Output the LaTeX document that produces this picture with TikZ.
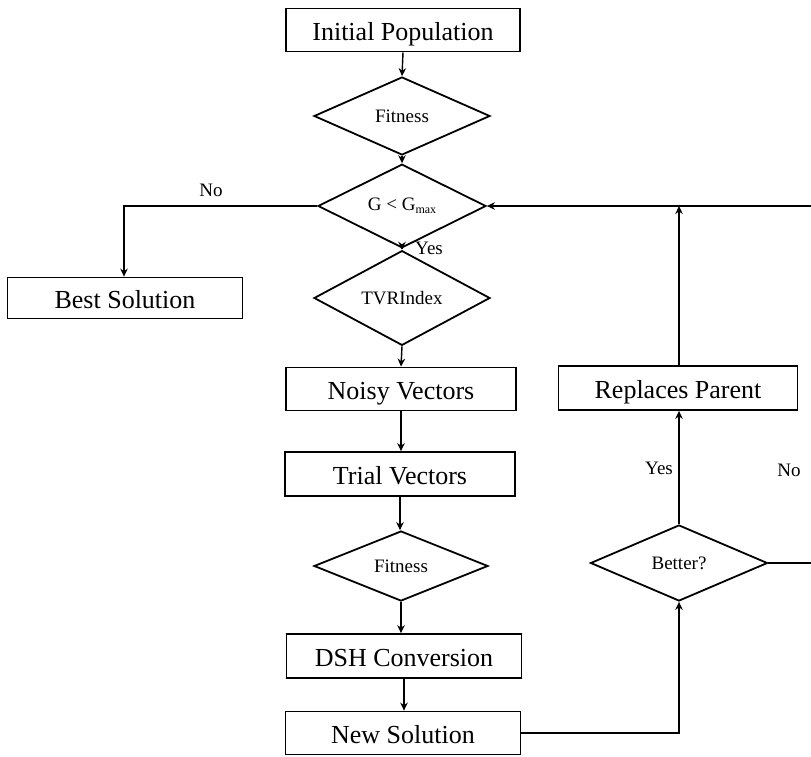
\documentclass[tikz,border=0pt]{standalone}
\usepackage{fontspec}
\setmainfont{Liberation Serif}
\usetikzlibrary{shapes.geometric,arrows.meta}
\tikzset{
  procbox/.style={draw, line width=1.8pt, rectangle, minimum width=234pt, minimum height=43pt,
    inner sep=0pt, text height=21pt, text depth=1pt, font=\fontsize{26}{30}\selectfont},
  decision/.style={draw, line width=1.8pt, diamond, minimum width=176pt, minimum height=78pt,
    inner sep=0pt, font=\fontsize{19}{22}\selectfont},
  flow/.style={line width=1.4pt, -{Stealth[length=8pt,width=7.5pt]}},
  lbl/.style={font=\fontsize{19}{22}\selectfont, inner sep=0pt}
}
\begin{document}
\begin{tikzpicture}[x=1pt, y=-1pt]
\useasboundingbox (0,0) rectangle (811,756);
% main column
\node[procbox] (ip)    at (403,30)  {Initial Population};
\node[decision] (fit1) at (402,116) {Fitness};
\node[decision, minimum width=168pt, minimum height=70pt] (gcmp) at (402,206)
  {G < G\raisebox{-0.3ex}{\fontsize{12}{12}\selectfont max}};
\node[decision] (tvr)  at (402,298) {TVRIndex};
\node[procbox, minimum width=230pt] (noisy) at (401,389) {Noisy Vectors};
\node[procbox, minimum width=230pt, minimum height=44pt] (trial) at (400,474) {Trial Vectors};
\node[decision, minimum width=174pt, minimum height=70pt] (fit2) at (401,566) {Fitness};
\node[procbox, minimum width=235pt, minimum height=44pt] (dsh) at (404,656) {DSH Conversion};
\node[procbox, minimum width=235pt] (newsol) at (403,733) {New Solution};
% side boxes
\node[procbox, minimum width=235pt, minimum height=41pt] (best) at (125,298) {Best Solution};
\node[procbox, minimum width=239pt, minimum height=44pt] (repl) at (678,388) {Replaces Parent};
\node[decision, minimum width=177pt, minimum height=76pt] (better) at (679,563) {Better?};
% junction points
\coordinate (nocorner) at (124,206);
\coordinate (newcorner) at (679,733);
\coordinate (topjoin) at (679,206);
\coordinate (rbottom) at (814,563);
\coordinate (rtop) at (814,206);
% connectors
\draw[flow] (ip.south) -- (fit1.north);
\draw[flow] (fit1.south) -- (gcmp.north);
\draw[flow] (gcmp.south) -- (tvr.north);
\draw[flow] (tvr.south) -- (noisy.north);
\draw[flow] (noisy.south) -- (noisy.south |- trial.north);
\draw[flow] (trial.south) -- (trial.south |- fit2.north);
\draw[flow] (fit2.south) -- (fit2.south |- dsh.north);
\draw[flow] (dsh.south) -- (dsh.south |- newsol.north);
\draw[flow] (gcmp.west) -- (nocorner) -- (best.north -| nocorner);
\draw[flow] (newsol.east) -- (newcorner) -- (better.south);
\draw[flow] (better.north) -- (better.north |- repl.south);
\draw[flow] (repl.north -| topjoin) -- (topjoin);
\draw[flow] (better.east) -- (rbottom) -- (rtop) -- (gcmp.east);
% labels
\node[lbl] (lno)  at (211,190) {No};
\node[lbl] (lyes) at (429,248) {Yes};
\node[lbl] (ryes) at (659,468) {Yes};
\node[lbl] (rno)  at (789,470) {No};
\end{tikzpicture}
\end{document}
